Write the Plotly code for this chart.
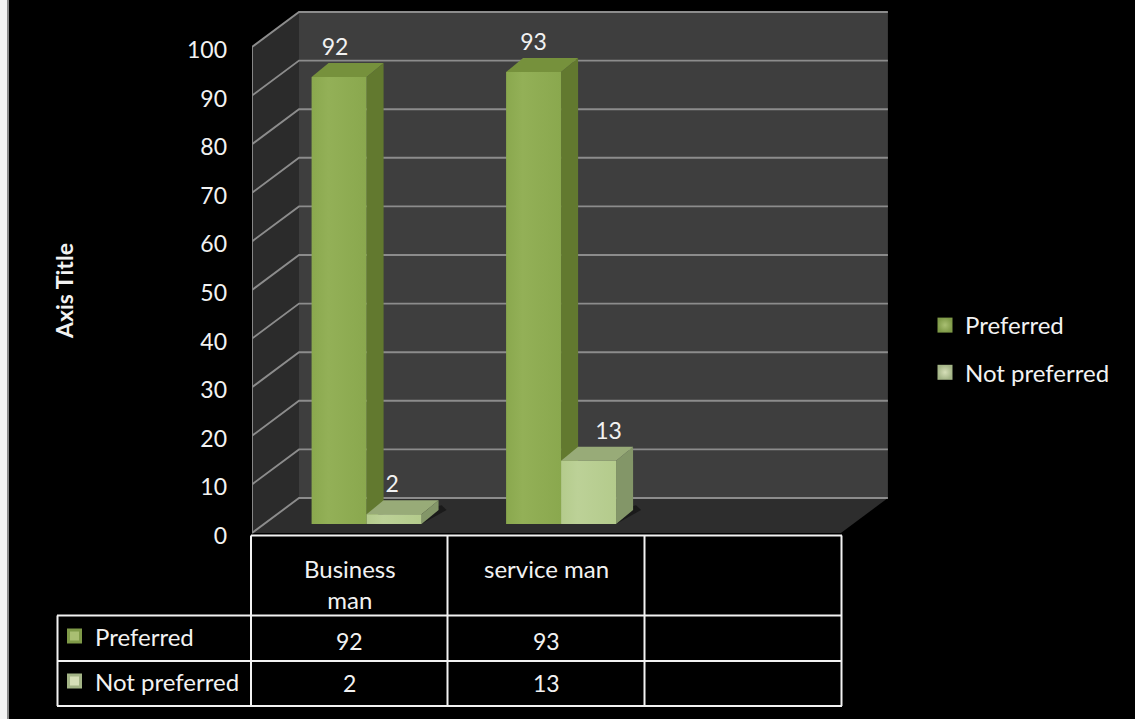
import plotly.graph_objects as go

# Chart content
categories = ["Business<br>man", "service man", ""]
series_names = ["Preferred", "Not preferred"]
preferred = [92, 93]
not_preferred = [2, 13]
value_ticks = [0, 10, 20, 30, 40, 50, 60, 70, 80, 90, 100]

# Figure geometry, in pixels
W, H = 1135, 719
PLOT_L, PLOT_R, PLOT_T, PLOT_B = 252, 900, 0, 537
CAT_PX = 196.3          # width of one category on the front plane
UNIT_PX = 4.86          # height of one value unit
ZERO_Y_PX = 533         # pixel row of value 0 on the front plane

# Oblique projection: a point (c, v) at depth d lands at (c + d*DX, v + d*DY)
DX = 47 / CAT_PX
DY = 35 / UNIT_PX
BAR_D0, BAR_D1 = 9 / 35, 23 / 35
BAR_DX = 17 / CAT_PX    # horizontal run of a bar's side face
BAR_W = 55 / CAT_PX
BAR_START = 47.5 / CAT_PX
CAT_STEP = 194.5 / CAT_PX
N_CAT = len(categories)

COL = {
    "Preferred": dict(front="#8aa84e", front_hi="#93b057", side="#62792f", top="#76913c",
                      swatch="#a9bf72", swatch_edge="#7f9a48"),
    "Not preferred": dict(front="#b4cb8c", front_hi="#bcd197", side="#839668", top="#98ab78",
                          swatch="#d6dfb8", swatch_edge="#a3b486"),
}
GRID = "#8c8c8c"
WHITE = "#f2f2f2"
FONT = "Lato"
WORD_SIZE = 24
DIGIT_SIZE = 23


def px_x(p):
    return (p - PLOT_L) / (PLOT_R - PLOT_L)


def px_y(p):
    return (PLOT_B - p) / (PLOT_B - PLOT_T)


def poly(xs, ys, color, name=None, gradient=None):
    kwargs = dict(fillgradient=gradient) if gradient else dict(fillcolor=color)
    return go.Scatter(
        x=list(xs) + [xs[0]], y=list(ys) + [ys[0]], mode="lines", fill="toself",
        line=dict(width=0, color=color),
        hoverinfo="skip", showlegend=False, name=name, **kwargs,
    )


def project(c, v, d):
    return c + d * DX, v + d * DY


fig = go.Figure()

# Chart walls and floor
full_w = N_CAT
wall_l = [project(0, 0, 0), project(0, 0, 1), project(0, 100, 1), project(0, 100, 0)]
fig.add_trace(poly([p[0] for p in wall_l], [p[1] for p in wall_l], "#2b2b2b"))
wall_b = [project(0, 0, 1), project(full_w, 0, 1), project(full_w, 100, 1), project(0, 100, 1)]
fig.add_trace(poly([p[0] for p in wall_b], [p[1] for p in wall_b], "#3e3e3e"))
floor = [project(0, 0, 0), project(full_w, 0, 0), project(full_w, 0, 1), project(0, 0, 1)]
fig.add_trace(poly([p[0] for p in floor], [p[1] for p in floor], "#2d2d2d"))

# Gridlines along the left wall and across the back wall
for v in value_ticks:
    a, b, c = project(0, v, 0), project(0, v, 1), project(full_w, v, 1)
    fig.add_trace(go.Scatter(x=[a[0], b[0], c[0]], y=[a[1], b[1], c[1]], mode="lines",
                             line=dict(color=GRID, width=1.9), hoverinfo="skip", showlegend=False))
fig.add_trace(go.Scatter(x=[0, 0], y=[0, 100], mode="lines",
                         line=dict(color=GRID, width=1.9), hoverinfo="skip", showlegend=False))

# Bars: drawn back to front so each series covers the side of the one before it
label_x, label_y, label_text = [], [], []
LABEL_NUDGE = {(0, 0): -4, (0, 1): -2, (1, 0): 0, (1, 1): 20}
for ci in range(len(preferred)):
    for si, (name, vals) in enumerate(zip(series_names, [preferred, not_preferred])):
        v = vals[ci]
        x0 = ci * CAT_STEP + BAR_START + BAR_D0 * DX + si * BAR_W
        x1 = x0 + BAR_W
        y0 = BAR_D0 * DY
        y1 = y0 + v
        back_y = (BAR_D1 - BAR_D0) * DY
        c = COL[name]
        # contact shadow on the floor
        fig.add_trace(poly([x1, x1 + BAR_DX + 8 / CAT_PX, x1 + BAR_DX + 3 / CAT_PX, x1],
                           [y0, y0 + back_y, y0 + back_y + 1, y0 + back_y], "rgba(20,20,20,0.75)"))
        fig.add_trace(poly([x1, x1 + BAR_DX, x1 + BAR_DX, x1],
                           [y0, y0 + back_y, y1 + back_y, y1], c["side"]))
        fig.add_trace(poly([x0, x1, x1 + BAR_DX, x0 + BAR_DX],
                           [y1, y1, y1 + back_y, y1 + back_y], c["top"]))
        fill = dict(type="horizontal", start=x0, stop=x1,
                    colorscale=[[0, c["front"]], [0.3, c["front_hi"]], [1, c["front"]]])
        fig.add_trace(poly([x0, x1, x1, x0], [y0, y0, y1, y1], c["front"], gradient=fill))
        label_x.append((x0 + x1) / 2 + LABEL_NUDGE[(ci, si)] / CAT_PX)
        label_y.append(y1 + 28 / UNIT_PX)
        label_text.append(str(v))

fig.add_trace(go.Scatter(x=label_x, y=label_y, text=label_text, mode="text",
                         textposition="middle center", cliponaxis=False,
                         textfont=dict(family=FONT, size=DIGIT_SIZE, color=WHITE),
                         hoverinfo="skip", showlegend=False))

# Legend entries
for i, name in enumerate(series_names):
    c = COL[name]
    fig.add_trace(go.Scatter(x=[None], y=[None], mode="markers", name=name, legendgroup=name,
                             marker=dict(symbol="square", size=15, color=c["swatch_edge"],
                                         gradient=dict(type="radial", color=c["swatch"]))))

shapes = []


def hline(y, x0, x1):
    shapes.append(dict(type="line", xref="paper", yref="paper", x0=px_x(x0), x1=px_x(x1),
                       y0=px_y(y), y1=px_y(y), line=dict(color=WHITE, width=2)))


def vline(x, y0, y1):
    shapes.append(dict(type="line", xref="paper", yref="paper", x0=px_x(x), x1=px_x(x),
                       y0=px_y(y0), y1=px_y(y1), line=dict(color=WHITE, width=2)))


# Data table grid below the chart
hline(535.5, 251, 842)
hline(615.5, 57, 842)
hline(661, 57, 842)
hline(706, 57, 842)
vline(57.5, 615.5, 706)
vline(251, 535.5, 706)
vline(447.5, 535.5, 706)
vline(644.5, 535.5, 706)
vline(841.5, 535.5, 706)

# Strip along the left edge of the page
shapes.append(dict(type="rect", xref="paper", yref="paper", x0=px_x(0), x1=px_x(7),
                   y0=px_y(0), y1=px_y(719), fillcolor="#f4f4f4", line=dict(width=0)))
shapes.append(dict(type="rect", xref="paper", yref="paper", x0=px_x(7), x1=px_x(9),
                   y0=px_y(0), y1=px_y(719), fillcolor="#8a8a8a", line=dict(width=0)))

# Series keys inside the data table: a darker frame around a lighter centre
for i, name in enumerate(series_names):
    cy = [636, 681][i]
    for half, colour in ((7.5, COL[name]["swatch_edge"]), (4.5, COL[name]["swatch"])):
        shapes.append(dict(type="rect", xref="paper", yref="paper",
                           x0=px_x(74.5 - half), x1=px_x(74.5 + half),
                           y0=px_y(cy - half), y1=px_y(cy + half),
                           fillcolor=colour, line=dict(width=0)))

annotations = []


def text(x, y, s, size=WORD_SIZE, anchor="center", bold=False, angle=0):
    annotations.append(dict(x=px_x(x), y=px_y(y), xref="paper", yref="paper", text=f"<b>{s}</b>" if bold else s,
                            showarrow=False, xanchor=anchor, yanchor="middle", textangle=angle,
                            font=dict(family=FONT, size=size, color=WHITE)))


cat_centres = [349.5, 546, 743]
for ci, cat in enumerate(categories):
    if cat:
        text(cat_centres[ci], 584 if "<br>" in cat else 568, cat)
for ci in range(len(preferred)):
    text(cat_centres[ci], 641, str(preferred[ci]), size=DIGIT_SIZE)
    text(cat_centres[ci], 683, str(not_preferred[ci]), size=DIGIT_SIZE)
for i, name in enumerate(series_names):
    text(93, [636, 681][i], name, anchor="left")
text(64, 291, "Axis Title", size=23, bold=True, angle=-90)

fig.update_layout(
    width=W, height=H, autosize=False,
    margin=dict(l=PLOT_L, r=W - PLOT_R, t=PLOT_T, b=H - PLOT_B, pad=0),
    paper_bgcolor="#000000", plot_bgcolor="rgba(0,0,0,0)",
    xaxis=dict(range=[0, (PLOT_R - PLOT_L) / CAT_PX], visible=False, fixedrange=True),
    yaxis=dict(range=[(ZERO_Y_PX - PLOT_B) / UNIT_PX, (ZERO_Y_PX - PLOT_T) / UNIT_PX],
               tickmode="array", tickvals=value_ticks, ticktext=[str(v) for v in value_ticks],
               showgrid=False, zeroline=False, showline=False, ticks="",
               ticklabelstandoff=24, ticklabelshift=3,
               tickfont=dict(family=FONT, size=DIGIT_SIZE, color=WHITE), fixedrange=True),
    legend=dict(x=px_x(925), y=px_y(303), xanchor="left", yanchor="top",
                bgcolor="rgba(0,0,0,0)", tracegroupgap=13, itemclick=False, itemdoubleclick=False,
                font=dict(family=FONT, size=WORD_SIZE, color=WHITE)),
    shapes=shapes, annotations=annotations, showlegend=True,
)

fig.write_html("out.html")
